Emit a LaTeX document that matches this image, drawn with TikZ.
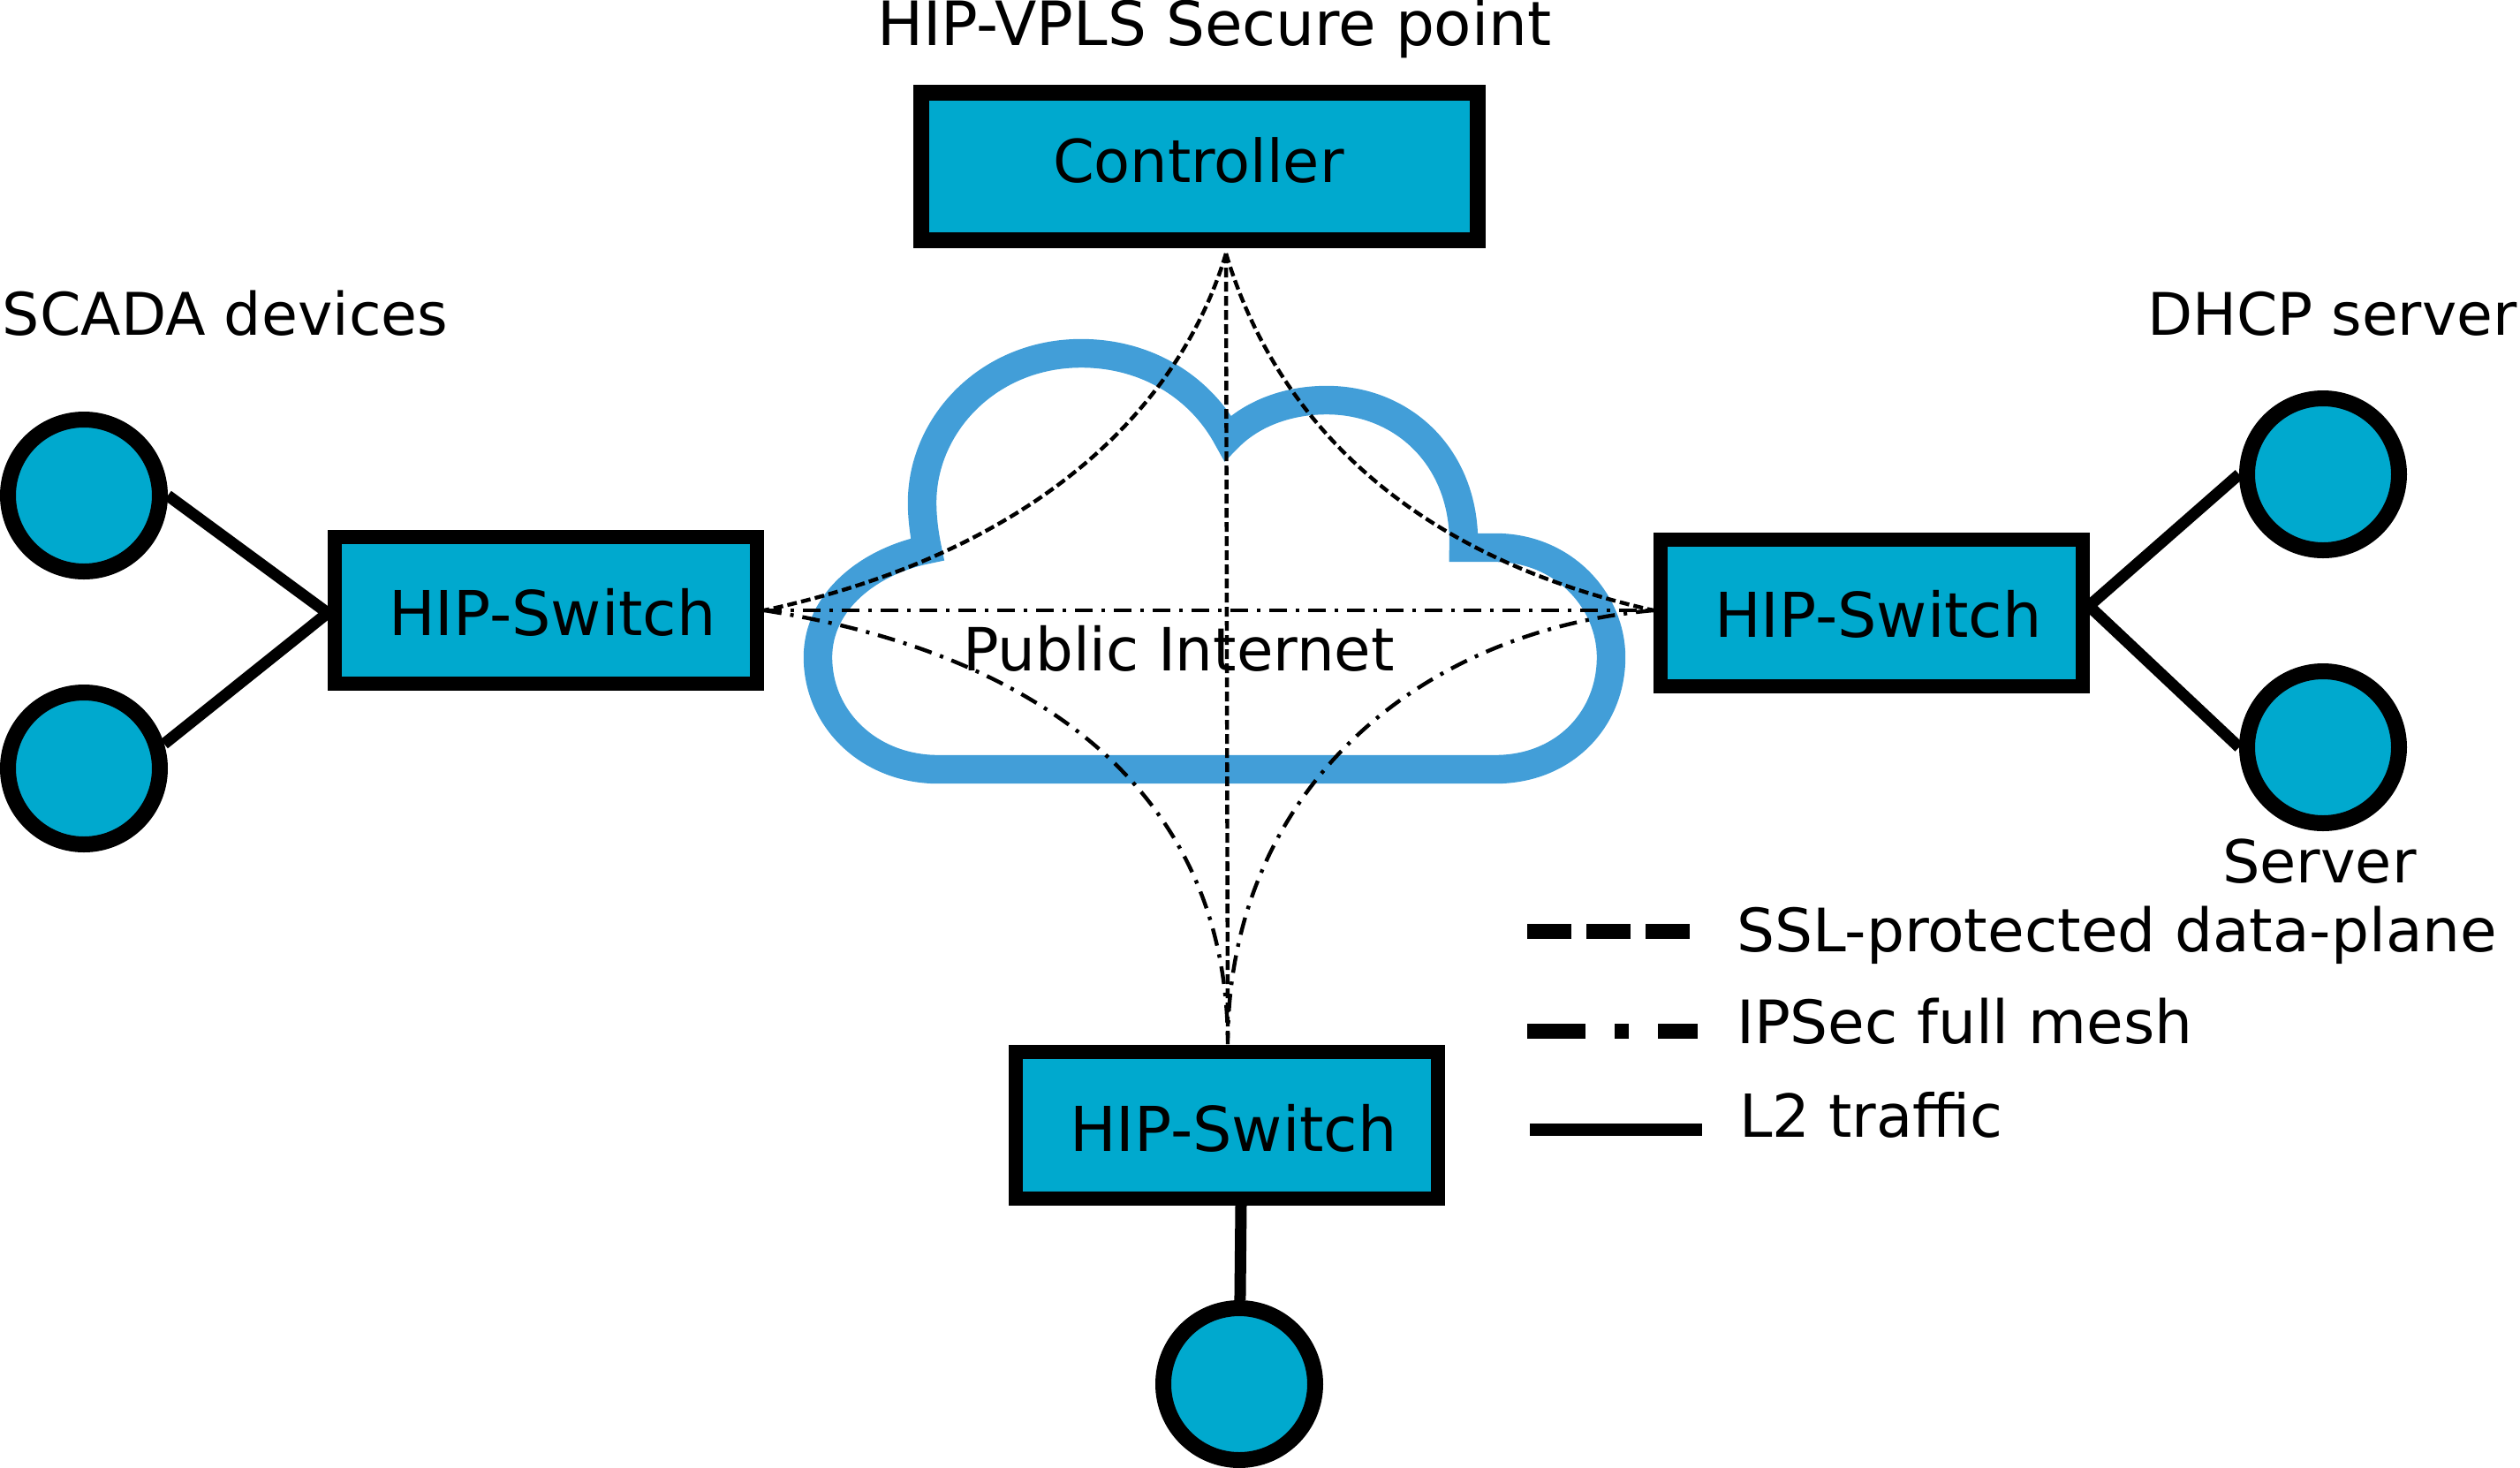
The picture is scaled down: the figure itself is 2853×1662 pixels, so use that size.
\documentclass[tikz,border=0pt]{standalone}
\usepackage{fontspec}
\setmainfont{DejaVu Sans}
\definecolor{boxfill}{HTML}{00A9CE}
\definecolor{cloudblue}{HTML}{429ED8}
\tikzset{
  x=0.25pt,y=-0.25pt,
  swbox/.style={draw=black,fill=boxfill,line width=4pt,minimum width=119.5pt,minimum height=41.5pt,inner sep=0pt},
  ctlbox/.style={draw=black,fill=boxfill,line width=4.5pt,minimum width=157.5pt,minimum height=41.75pt,inner sep=0pt},
  dev/.style={circle,draw=black,fill=boxfill,line width=4.5pt,minimum size=43pt,inner sep=0pt},
  lbl/.style={anchor=base west,inner sep=0pt,outer sep=0pt,font=\fontsize{#1}{20pt}\selectfont},
  l2link/.style={line width=3.25pt,black},
  ssl/.style={line width=1.1pt,black,dash pattern=on 2.75pt off 1.25pt},
  mesh/.style={line width=1.1pt,black,dash pattern=on 5pt off 2.5pt on 1pt off 2.5pt},
}
\begin{document}
\begin{tikzpicture}
\useasboundingbox (0,0) rectangle (2853,1662);
% cloud
\draw[cloudblue,line width=8.1pt,miter limit=10,line join=miter]
  (1062,871) -- (1693,871)
  .. controls (1770,871) and (1824,815) .. (1824,744)
  .. controls (1824,680) and (1770,620) .. (1693,620) -- (1657,620)
  .. controls (1660,520) and (1590,453) .. (1502,453)
  .. controls (1455,453) and (1415,470) .. (1390,496)
  .. controls (1360,440) and (1300,400) .. (1224,400)
  .. controls (1120,400) and (1044,480) .. (1044,569)
  .. controls (1044,585) and (1046,603) .. (1050,622)
  .. controls (985,635) and (926,680) .. (926,744)
  .. controls (926,815) and (985,871) .. (1062,871) -- cycle;
% boxes
\node[ctlbox] (ctl) at (1358,188.5) {};
\node[swbox] (ls) at (617.5,690.5) {};
\node[swbox] (rs) at (2118.5,694) {};
\node[swbox] (bs) at (1388.5,1273.5) {};
% devices
\node[dev] (d1) at (95,561) {};
\node[dev] (d2) at (95,870) {};
\node[dev] (d3) at (2630,537) {};
\node[dev] (d4) at (2630,846) {};
\node[dev] (d5) at (1403,1567) {};
% attachment points
\coordinate (ap) at (1388,287);
\coordinate (lp) at (865,691);
\coordinate (rp) at (1872,691);
\coordinate (bp) at (1390,1182);
\coordinate (bq) at (1405,1365);
\coordinate (lj) at (371,694);
\coordinate (rj) at (2365,686);
% L2 links
\draw[l2link] (d1.east) -- (lj);
\draw[l2link] (d2.17) -- (lj);
\draw[l2link] (d3.west) -- (rj);
\draw[l2link] (d4.west) -- (rj);
\draw[l2link] (d5) -- (bq);
% mesh
\draw[ssl] (ap) .. controls (1330,480) and (1150,630) .. (lp);
\draw[ssl] (ap) .. controls (1446,480) and (1600,630) .. (rp);
\draw[ssl] (ap) -- (bp);
\draw[mesh] (lp) -- (rp);
\draw[mesh] (lp) .. controls (1180,740) and (1390,900) .. (bp);
\draw[mesh] (rp) .. controls (1600,715) and (1390,900) .. (bp);
% text
\node[lbl=17.3pt] (t1) at (993,51) {HIP-VPLS Secure point};
\node[lbl=16.75pt] (t2) at (1192,206) {Controller};
\node[lbl=16.64pt] (t3) at (3,379) {SCADA devices};
\node[lbl=16.6pt] (t4) at (2431,379) {DHCP server};
\node[lbl=17.5pt] (t5) at (440,719) {HIP-Switch};
\node[lbl=17.5pt] (t6) at (1941,721) {HIP-Switch};
\node[lbl=17.5pt] (t7) at (1211,1303) {HIP-Switch};
\node[lbl=16.86pt] (t8) at (1090,759) {Public Internet};
\node[lbl=16.74pt] (t9) at (2516,999) {Server};
\node[lbl=16.94pt] (t10) at (1966,1077) {SSL-protected data-plane};
\node[lbl=16.94pt] (t11) at (1966,1181) {IPSec full mesh};
\node[lbl=16.8pt] (t12) at (1969,1287) {L2 traffic};
% legend
\coordinate (k1a) at (1729,1054); \coordinate (k1b) at (1913,1054);
\coordinate (k2a) at (1729,1167); \coordinate (k2b) at (1922,1167);
\coordinate (k3a) at (1732,1279); \coordinate (k3b) at (1927,1279);
\draw[line width=4.25pt,dash pattern=on 12.5pt off 4.25pt] (k1a) -- (k1b);
\draw[line width=4.25pt,dash pattern=on 16.5pt off 8.25pt on 4pt off 8.25pt] (k2a) -- (k2b);
\draw[line width=3.5pt] (k3a) -- (k3b);
\end{tikzpicture}
\end{document}
